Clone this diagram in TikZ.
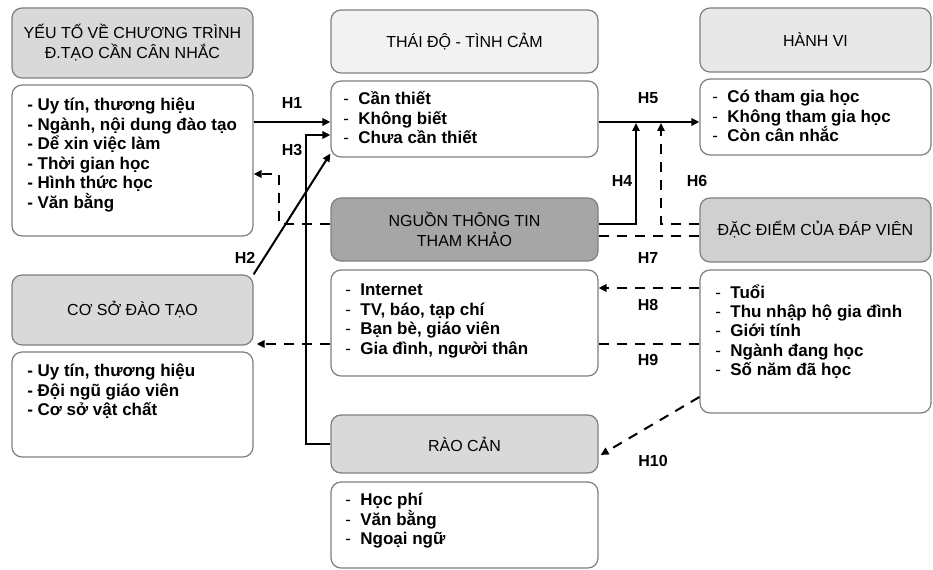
\documentclass[tikz,border=0pt]{standalone}
\usepackage{fontspec}
\setmainfont{Liberation Sans}
\usetikzlibrary{arrows.meta,calc}
\definecolor{bord}{HTML}{7F7F7F}
\definecolor{hA}{HTML}{D9D9D9}
\definecolor{hB}{HTML}{F2F2F2}
\definecolor{hC}{HTML}{E8E8E8}
\definecolor{hD}{HTML}{A6A6A6}
\definecolor{hE}{HTML}{D0D0D0}
\begin{document}
\begin{tikzpicture}[x=0.75pt,y=-0.75pt,
  box/.style={draw=bord, line width=0.9pt, rounded corners=7.5pt, inner sep=0pt},
  hdr/.style={box, font=\fontsize{12}{15}\selectfont, align=center},
  bodybox/.style={box, fill=white},
  lst/.style={anchor=base west, inner sep=0pt, align=left, font=\fontsize{12.75}{14.6}\selectfont\bfseries},
  conn/.style={line width=1.5pt, draw=black},
  dconn/.style={conn, dash pattern=on 7.5pt off 6pt},
  tip/.style={-{Triangle[length=6pt,width=5.5pt]}},
  lab/.style={font=\fontsize{12}{13}\selectfont\bfseries, inner sep=0pt}
]
\useasboundingbox (0,0) rectangle (933,570);
\newcommand{\dd}{{\mdseries -}\ \ }

% ---- boxes (list nodes are placed by the baseline of their last line)
\node[hdr, fill=hA, minimum width=241*0.75pt, minimum height=70*0.75pt] (Ah) at (132.5,43) {YẾU TỐ VỀ CHƯƠNG TRÌNH\\Đ.TẠO CẦN CÂN NHẮC};
\node[bodybox, minimum width=241*0.75pt, minimum height=151*0.75pt] (Ab) at (132.5,160.5) {};
\node[lst] (At) at (27,208.3) {- Uy tín, thương hiệu\\- Ngành, nội dung đào tạo\\- Dể xin việc làm\\- Thời gian học\\- Hình thức học\\- Văn bằng};

\node[hdr, fill=hB, minimum width=267*0.75pt, minimum height=63*0.75pt] (Bh) at (464.5,41.5) {THÁI ĐỘ - TÌNH CẢM};
\node[bodybox, minimum width=267*0.75pt, minimum height=76*0.75pt] (Bb) at (464.5,119) {};
\node[lst] (Bt) at (343,143.9) {\dd Cần thiết\\\dd Không biết\\\dd Chưa cần thiết};

\node[hdr, fill=hC, minimum width=231*0.75pt, minimum height=64*0.75pt] (Ch) at (815.5,40) {HÀNH VI};
\node[bodybox, minimum width=231*0.75pt, minimum height=76*0.75pt] (Cb) at (815.5,117) {};
\node[lst] (Ct) at (712,141.9) {\dd Có tham gia học\\\dd Không tham gia học\\\dd Còn cân nhắc};

\node[hdr, fill=hD, minimum width=267*0.75pt, minimum height=63*0.75pt] (Dh) at (464.5,229.5) {NGUỒN THÔNG TIN\\THAM KHẢO};
\node[bodybox, minimum width=267*0.75pt, minimum height=106*0.75pt] (Db) at (464.5,323) {};
\node[lst] (Dt) at (345,354.4) {\dd Internet\\\dd TV, báo, tạp chí\\\dd Bạn bè, giáo viên\\\dd Gia đình, người thân};

\node[hdr, fill=hE, minimum width=231*0.75pt, minimum height=64*0.75pt] (Eh) at (815.5,230) {ĐẶC ĐIỂM CỦA ĐÁP VIÊN};
\node[bodybox, minimum width=231*0.75pt, minimum height=143*0.75pt] (Eb) at (815.5,341.5) {};
\node[lst] (Et) at (715,375.9) {\dd Tuổi\\\dd Thu nhập hộ gia đình\\\dd Giới tính\\\dd Ngành đang học\\\dd Số năm đã học};

\node[hdr, fill=hA, minimum width=241*0.75pt, minimum height=70*0.75pt] (Fh) at (132.5,310) {CƠ SỞ ĐÀO TẠO};
\node[bodybox, minimum width=241*0.75pt, minimum height=105*0.75pt] (Fb) at (132.5,404.5) {};
\node[lst] (Ft) at (27,415.9) {- Uy tín, thương hiệu\\- Đội ngũ giáo viên\\- Cơ sở vật chất};

\node[hdr, fill=hA, minimum width=267*0.75pt, minimum height=58*0.75pt] (Gh) at (464.5,444) {RÀO CẢN};
\node[bodybox, minimum width=267*0.75pt, minimum height=86*0.75pt] (Gb) at (464.5,525) {};
\node[lst] (Gt) at (345,544.9) {\dd Học phí\\\dd Văn bằng\\\dd Ngoại ngữ};

% ---- helper coordinates
\coordinate (y122) at (0,122);
\coordinate (y135) at (0,135);
\coordinate (y174) at (0,174);
\coordinate (y224) at (0,224);
\coordinate (y236) at (0,236);
\coordinate (y288) at (0,288);
\coordinate (y344) at (0,344);
\coordinate (y397) at (0,397);
\coordinate (y455) at (0,455);
\coordinate (x279) at (279,0);
\coordinate (x306) at (306,0);
\coordinate (x636) at (636,0);
\coordinate (x661) at (661,0);

% ---- connectors
\draw[conn,tip] (Ab.east |- y122) -- (Bb.west |- y122);
\draw[conn,tip] (Gh.west) -- (Gh.west -| x306) -- (x306 |- y135) -- (Bb.west |- y135);
\draw[conn,tip] (Fh.north east) -- ($(Bb.south west)+(0,-4)$);
\draw[dconn,tip] (Dh.west |- y224) -- (x279 |- y224) -- (x279 |- y174) -- (Ab.east |- y174);
\draw[conn,tip] (Dh.east |- y224) -- (x636 |- y224) -- ($(x636 |- y122)+(0,1)$);
\draw[conn,tip] (Bb.east |- y122) -- (Cb.west |- y122);
\draw[dconn,tip] (Eh.west |- y224) -- (x661 |- y224) -- ($(x661 |- y122)+(0,1)$);
\draw[dconn] (Eh.west |- y236) -- (Dh.east |- y236);
\draw[dconn,tip] (Eb.west |- y288) -- (Db.east |- y288);
\draw[dconn] (Eb.west |- y344) -- (Db.east |- y344);
\draw[dconn,tip] (Db.west |- y344) -- ($(Fh.east |- y344)+(3,0)$);
\draw[dconn,tip] (Eb.west |- y397) -- ($(Gh.east |- y455)+(2,0)$);

% ---- labels
\node[lab] (H1) at (292,103) {H1};
\node[lab] (H3) at (292,150) {H3};
\node[lab] (H2) at (245,258) {H2};
\node[lab] (H4) at (622,181) {H4};
\node[lab] (H5) at (648,98) {H5};
\node[lab] (H6) at (697,181) {H6};
\node[lab] (H7) at (648,258) {H7};
\node[lab] (H8) at (648,305) {H8};
\node[lab] (H9) at (648,360) {H9};
\node[lab] (H10) at (653,461) {H10};
\end{tikzpicture}
\end{document}
